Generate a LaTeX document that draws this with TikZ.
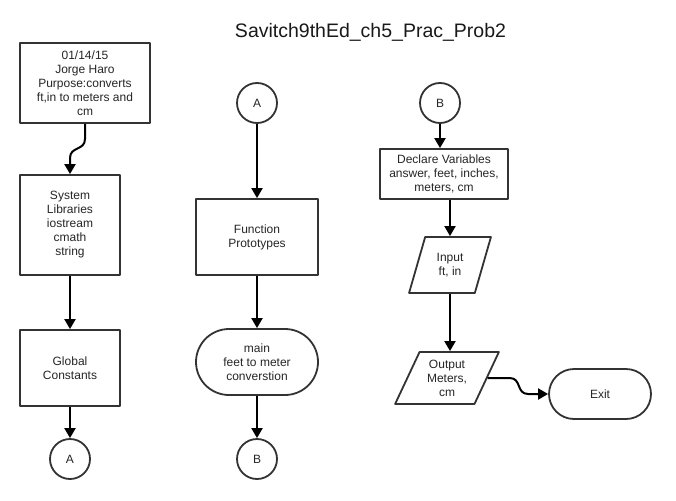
\documentclass[tikz,border=0pt]{standalone}
\usepackage{fontspec}
\setmainfont{Liberation Sans}
\usetikzlibrary{arrows.meta,shapes.geometric,shapes.misc}

\begin{document}
\begin{tikzpicture}[x=1pt, y=-1pt, line join=round,
		flow/.style={draw=black!80, line width=1.8pt, fill=white, text=black!85,
			font=\fontsize{12}{14}\selectfont, align=center, inner sep=0pt},
		proc/.style={flow, rectangle},
		term/.style={flow, rounded rectangle},
		conn/.style={flow, circle, minimum size=40pt},
		io/.style={flow, trapezium, trapezium stretches=true},
		arr/.style={draw=black, line width=2pt, -{Triangle[length=10pt,width=11pt]}}]
	
	% Page size
	\useasboundingbox (0,0) rectangle (676,500);
	
	% Title
	\node[font=\fontsize{19.5}{22}\selectfont, text=black!90] (title) at (370.5,32) {Savitch9thEd\_ch5\_Prac\_Prob2};
	
	% Left column
	\node[proc, minimum width=130pt, minimum height=80pt] (header) at (85,83)
		{01/14/15\\Jorge Haro\\Purpose:converts\\ft,in to meters and\\cm};
	\node[proc, minimum width=100pt, minimum height=100pt] (libs) at (70,225)
		{System\\Libraries\\iostream\\cmath\\string};
	\node[proc, minimum width=100pt, minimum height=76pt] (consts) at (70,368)
		{Global\\Constants};
	\node[conn] (offA) at (70,459) {A};
	
	% Middle column
	\node[conn] (inA) at (257,103) {A};
	\node[proc, minimum width=122pt, minimum height=76pt] (protos) at (257,237)
		{Function\\Prototypes};
	\node[term, minimum width=122pt, minimum height=66pt] (mainfn) at (257,362)
		{main\\feet to meter\\converstion};
	\node[conn] (offB) at (257,459) {B};
	
	% Right column
	\node[conn] (inB) at (440,103) {B};
	\node[proc, minimum width=128pt, minimum height=50pt] (decl) at (444,174)
		{Declare Variables\\answer, feet, inches,\\meters, cm};
	\node[io, trapezium left angle=70, trapezium right angle=110,
		minimum width=82pt, minimum height=56pt] (input) at (450,265) {Input\\ft, in};
	\node[io, trapezium left angle=64, trapezium right angle=116,
		minimum width=104pt, minimum height=52pt] (output) at (447,378) {Output\\Meters,\\cm};
	\node[term, minimum width=102pt, minimum height=50pt] (exit) at (600,394) {Exit};
	
	% Connectors
	\draw[arr] (header.south) -- ++(0,15) .. controls +(0,12) and +(0,-12) .. ([yshift=16pt]libs.north) -- (libs.north);
	\draw[arr] (libs.south) -- (consts.north);
	\draw[arr] (consts.south) -- (offA.north);
	\draw[arr] (inA.south) -- (protos.north);
	\draw[arr] (protos.south) -- (mainfn.north);
	\draw[arr] (mainfn.south) -- (offB.north);
	\draw[arr] (inB.south) -- (inB.south |- decl.north);
	\draw[arr] (decl.south -| input.north) -- (input.north);
	\draw[arr] (input.south) -- (input.south |- output.north);
	\draw[arr] (output.east) -- ++(22,0) .. controls +(12,0) and +(-12,0) .. ([xshift=-20pt]exit.west) -- (exit.west);
	
\end{tikzpicture}
\end{document}
